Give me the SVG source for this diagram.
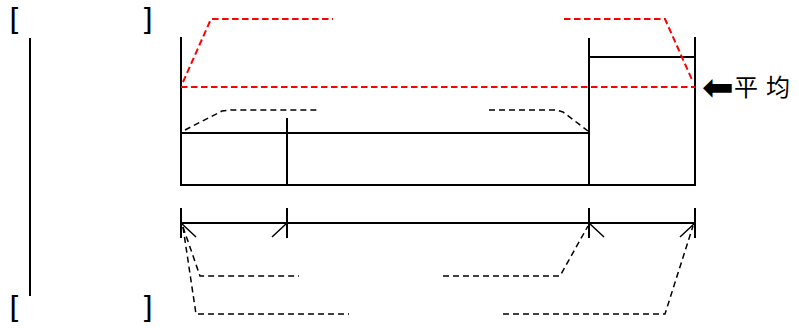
<svg xmlns="http://www.w3.org/2000/svg" width="799" height="328" viewBox="0 0 799 328">
<style>
.s{stroke:#000;stroke-width:2;fill:none}
.d{stroke:#000;stroke-width:1.5;fill:none;stroke-dasharray:6,4}
.r{stroke:#f00;stroke-width:2;fill:none;stroke-dasharray:6.5,3.5}
.b{font-family:"DejaVu Sans Mono",monospace;font-size:30px;fill:#000}
.t{font-family:"Noto Sans CJK SC","DejaVu Sans",sans-serif;font-size:24px;fill:#000}
.a{font-family:"DejaVu Sans",sans-serif;font-size:38px;fill:#000}
</style>
<rect width="799" height="328" fill="#fff"/>
<g id="brackets-top"><text class="b" x="5" y="30">[</text><text class="b" x="139" y="30">]</text></g>
<g id="brackets-bottom"><text class="b" x="5" y="318">[</text><text class="b" x="139" y="318">]</text></g>
<g id="axis"><line class="s" x1="30" y1="38" x2="30" y2="296"/></g>
<g id="chart">
<polyline class="s" points="181,37 181,185 695,185 695,37"/>
<line class="s" x1="589" y1="38" x2="589" y2="185"/>
<line class="s" x1="589" y1="57" x2="695" y2="57"/>
<line class="s" x1="181" y1="133" x2="589" y2="133"/>
<line class="s" x1="287" y1="118" x2="287" y2="185"/>
</g>
<g id="dimension">
<line class="s" x1="181" y1="223" x2="695" y2="223"/>
<line class="s" x1="181" y1="208" x2="181" y2="238"/>
<line class="s" x1="287" y1="208" x2="287" y2="238"/>
<line class="s" x1="589" y1="208" x2="589" y2="238"/>
<line class="s" x1="695" y1="208" x2="695" y2="238"/>
<line stroke="#000" stroke-width="1.5" x1="181" y1="223" x2="196" y2="237"/>
<line stroke="#000" stroke-width="1.5" x1="287" y1="223" x2="272" y2="237"/>
<line stroke="#000" stroke-width="1.5" x1="589" y1="223" x2="604" y2="237"/>
<line stroke="#000" stroke-width="1.5" x1="695" y1="223" x2="680" y2="237"/>
</g>
<g id="connectors">
<polyline class="r" points="181,87 695,87"/>
<polyline class="r" points="183,82 211,19 333,19"/>
<polyline class="r" points="564,19 665,19 693,82"/>
<polyline class="d" points="185,130 222,111 231,110 318,110"/>
<polyline class="d" points="489,110 556,110 563,112 588,131"/>
<polyline class="d" points="183,227 200,276 299,276"/>
<polyline class="d" points="183,227 196,314 349,314"/>
<polyline class="d" points="443,276 560,276 588,226"/>
<polyline class="d" points="503,314 665,314 693,226"/>
</g>
<g id="label"><text class="a" x="702" y="100">⬅</text><text class="t" y="96"><tspan x="734">平</tspan><tspan x="766">均</tspan></text></g>
</svg>
